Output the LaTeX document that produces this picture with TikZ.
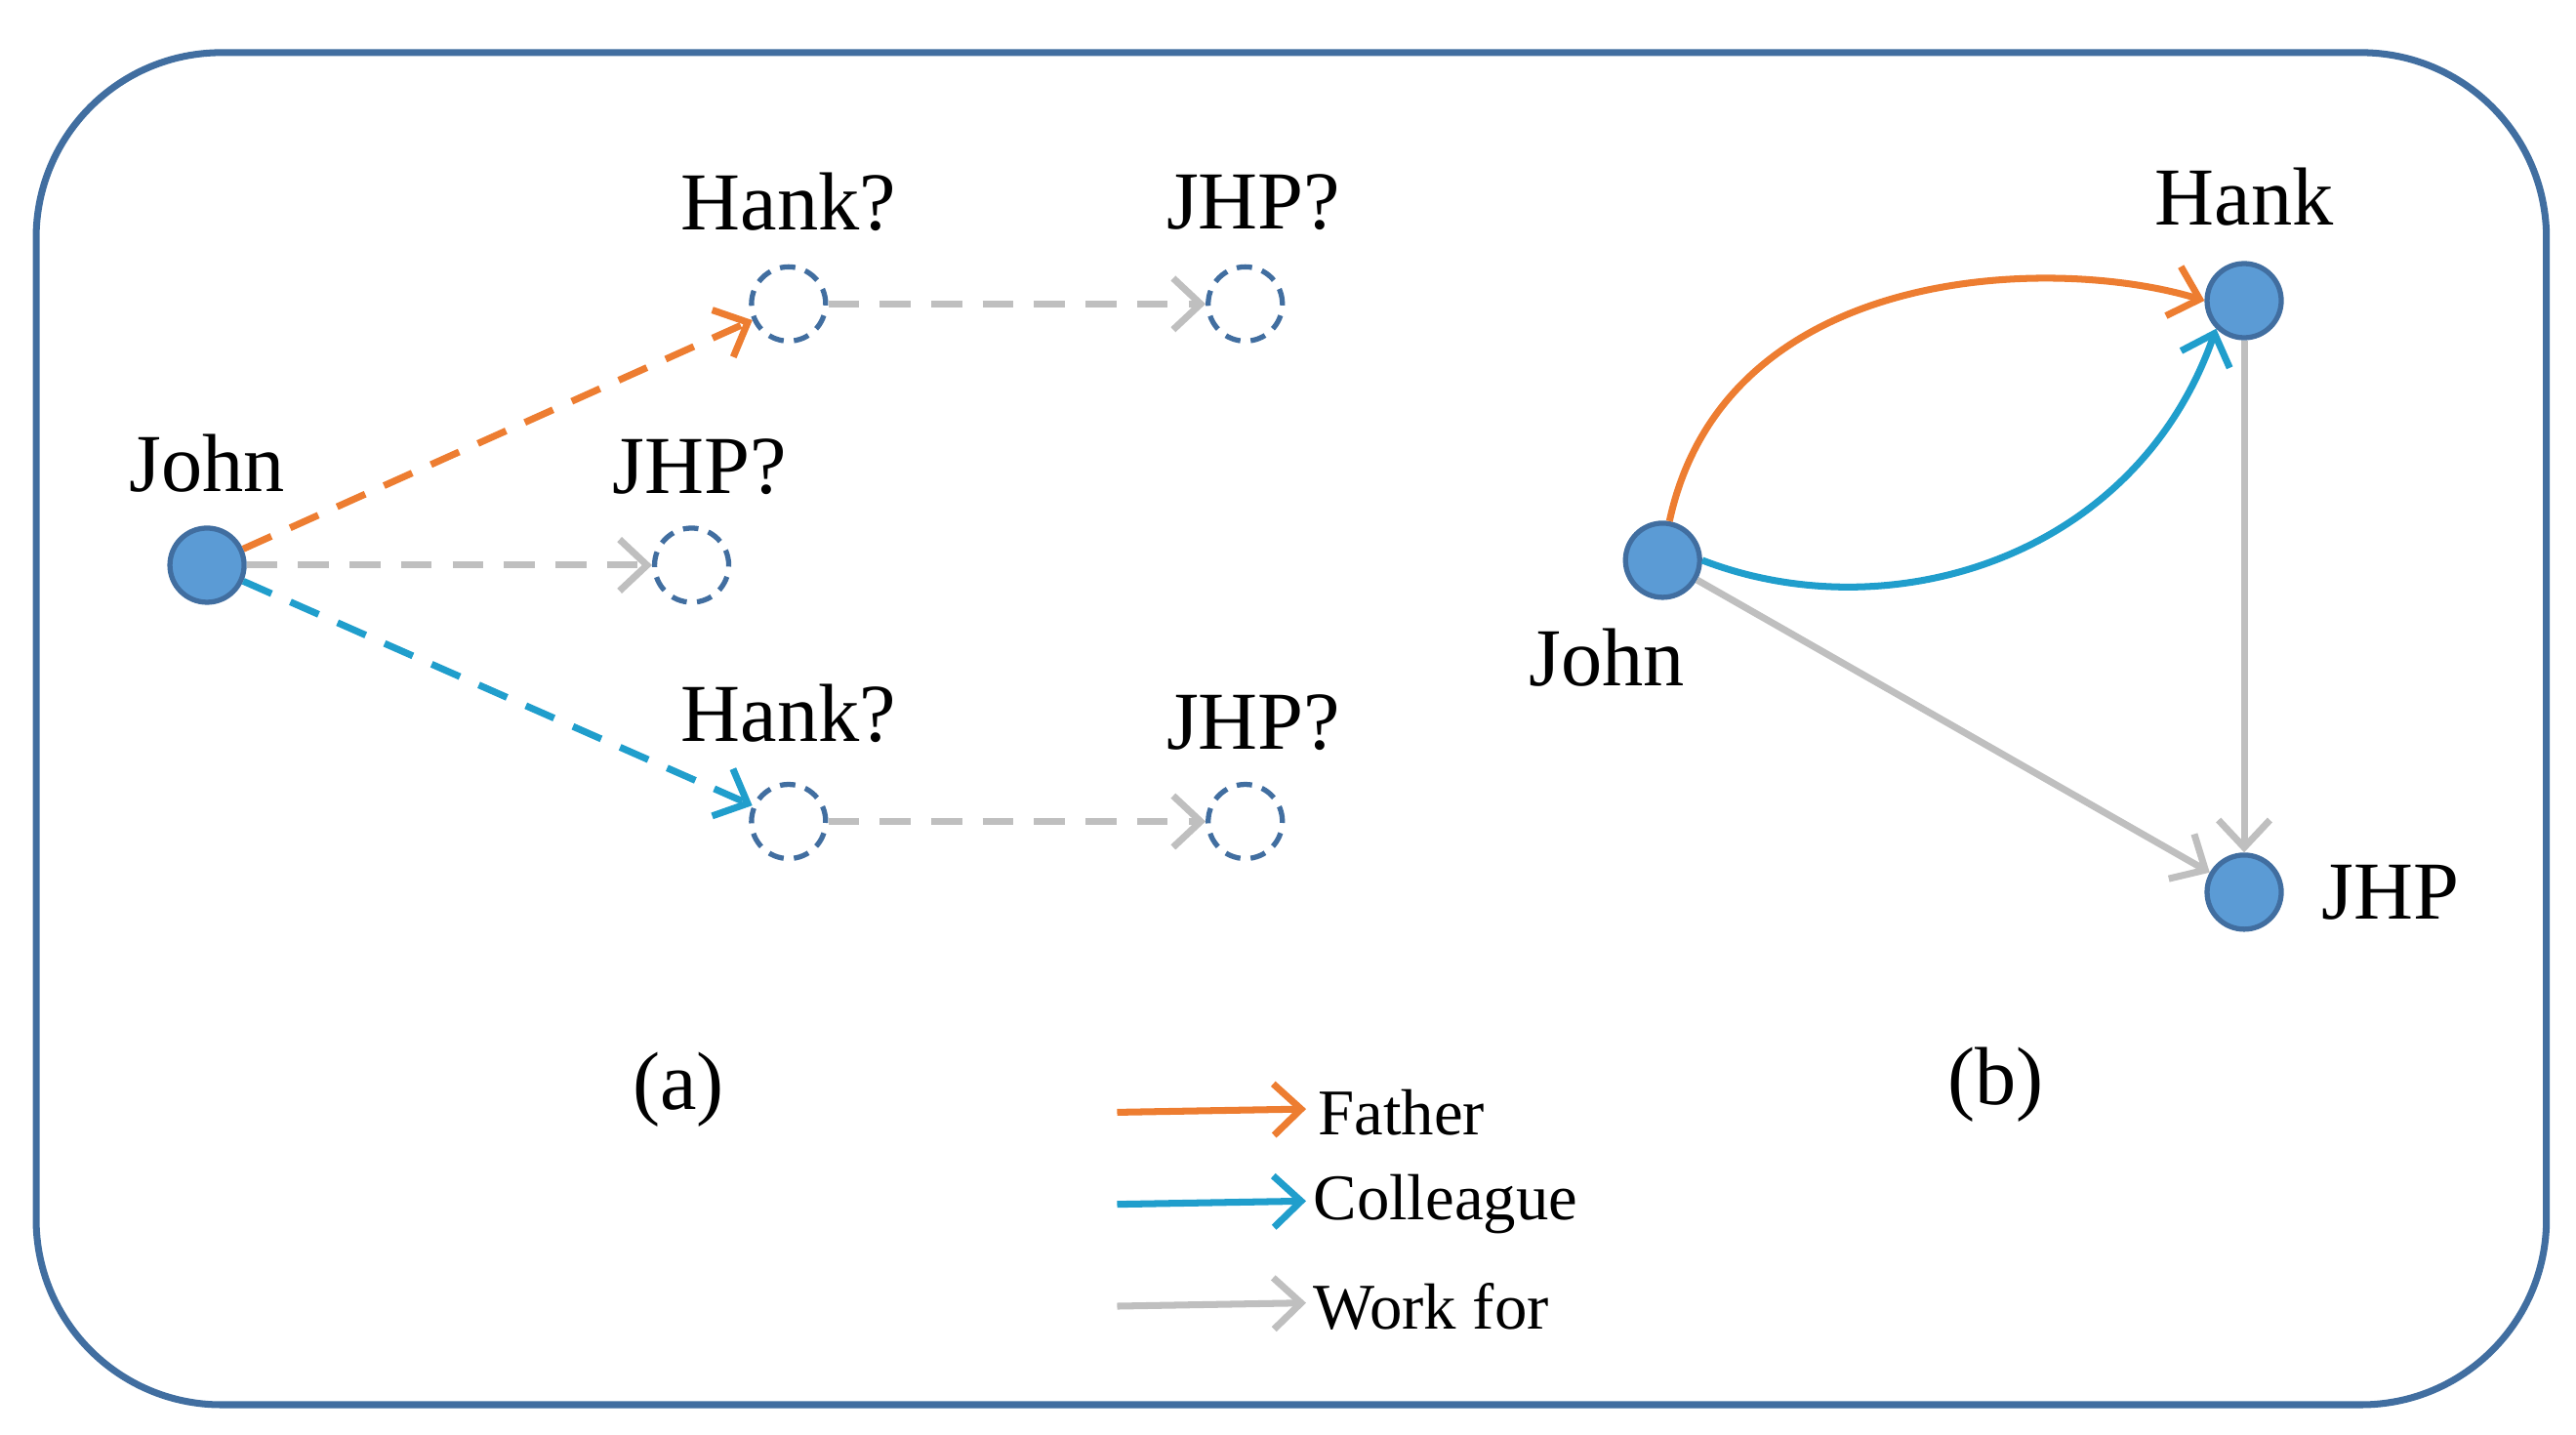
\documentclass[tikz,border=0pt]{standalone}
\usepackage{fontspec}
\setmainfont{Liberation Serif}
\usetikzlibrary{arrows.meta}
\definecolor{frameblue}{RGB}{65,110,160}
\definecolor{nodefill}{RGB}{91,155,213}
\definecolor{father}{RGB}{237,125,49}
\definecolor{colleague}{RGB}{32,158,204}
\definecolor{workfor}{RGB}{191,191,191}
\begin{document}
\begin{tikzpicture}[x=0.01683cm,y=-0.01683cm]
\tikzset{
  ent/.style={draw=frameblue, fill=nodefill, circle, line width=1.5pt, minimum size=0.76cm, inner sep=0pt},
  unk/.style={draw=frameblue, circle, line width=1.5pt, dash pattern=on 4.5pt off 3pt, minimum size=0.76cm, inner sep=0pt},
  lbl/.style={font=\fontsize{24}{28}\selectfont, inner sep=0pt},
  leg/.style={font=\fontsize{19}{22}\selectfont, inner sep=0pt, anchor=west},
  rel/.style={line width=2pt, -{Straight Barb[length=8pt,width=15pt,line width=2pt]}},
  guess/.style={rel, dash pattern=on 9pt off 6pt},
}
\useasboundingbox (0,0) rectangle (1568,873);
\draw[frameblue, line width=2pt, rounded corners=1.9cm] (22,32) rectangle (1550,855);

% (a)
\node[ent] (john) at (126,344) {};
\node[lbl] at (126,282) {John};
\node[unk] (hank1) at (480,185) {};
\node[lbl] at (480,123) {Hank?};
\node[unk] (jhp1) at (758,185) {};
\node[lbl] at (763,123) {JHP?};
\node[unk] (jhp0) at (421,344) {};
\node[lbl] at (426,284) {JHP?};
\node[unk] (hank2) at (480,500) {};
\node[lbl] at (480,434) {Hank?};
\node[unk] (jhp2) at (758,500) {};
\node[lbl] at (763,440) {JHP?};
\draw[guess, father] (john) -- (hank1);
\draw[guess, workfor] (john) -- (jhp0);
\draw[guess, colleague] (john) -- (hank2);
\draw[guess, workfor] (hank1) -- (jhp1);
\draw[guess, workfor] (hank2) -- (jhp2);
\node[lbl] at (413,663) {(a)};

% (b)
\node[ent] (bjohn) at (1012,341) {};
\node[lbl] at (978,400) {John};
\node[ent] (bhank) at (1366,183) {};
\node[lbl] at (1366,120) {Hank};
\node[ent] (bjhp) at (1366,543) {};
\node[lbl] at (1455,543) {JHP};
\draw[rel, father] (bjohn.80) .. controls (1050,160) and (1250,155) .. (bhank.west);
\draw[rel, colleague] (bjohn.east) .. controls (1150,385) and (1300,340) .. (bhank.south west);
\draw[rel, workfor] (bjohn) -- (bjhp);
\draw[rel, workfor] (bhank) -- (bjhp);
\node[lbl] at (1215,660) {(b)};

% legend
\coordinate (f0) at (680,677); \coordinate (f1) at (795,675);
\coordinate (c0) at (680,733); \coordinate (c1) at (795,731);
\coordinate (w0) at (680,795); \coordinate (w1) at (795,793);
\draw[rel, father] (f0) -- (f1);
\draw[rel, colleague] (c0) -- (c1);
\draw[rel, workfor] (w0) -- (w1);
\node[leg] at (802,677) {Father};
\node[leg] at (799,733) {Colleague};
\node[leg] at (799,795) {Work for};
\end{tikzpicture}
\end{document}
